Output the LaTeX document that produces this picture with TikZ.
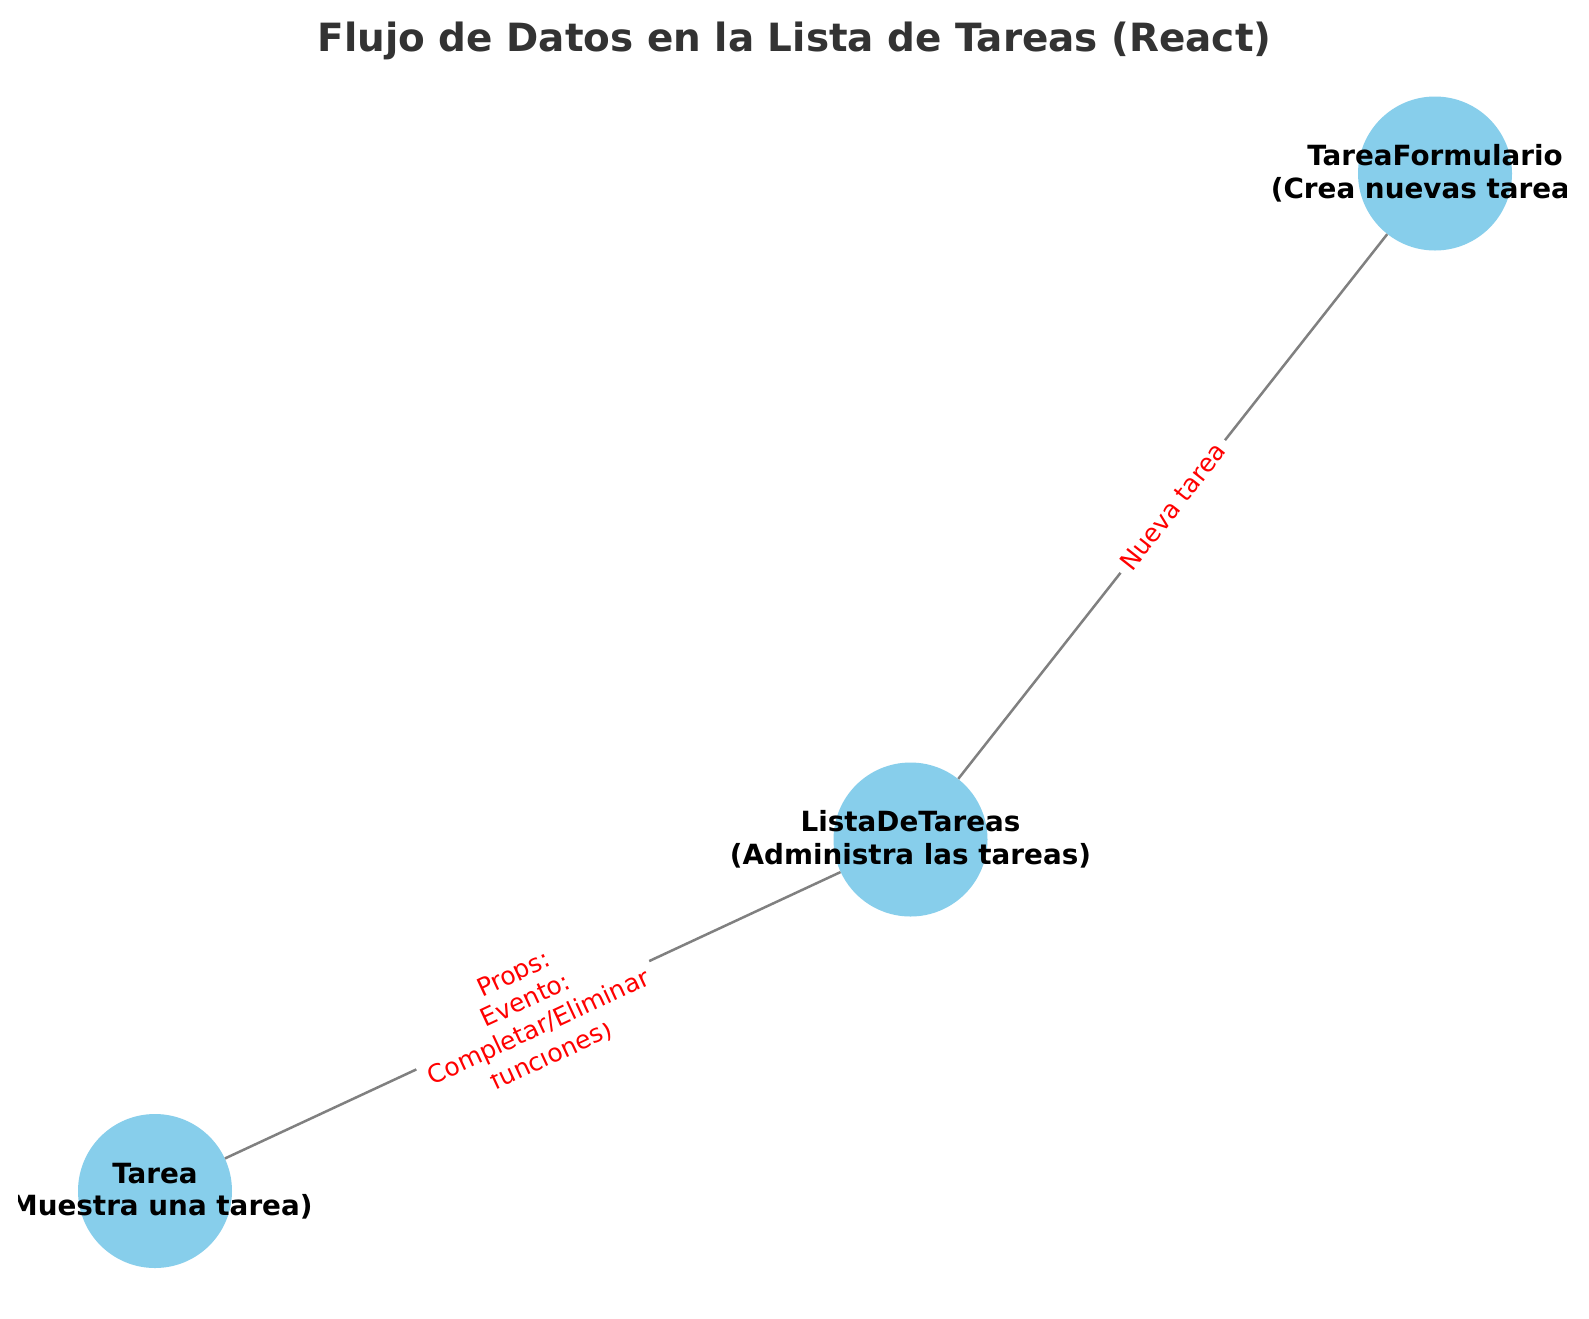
\documentclass[tikz,border=0pt]{standalone}
\usepackage{fontspec}
\setmainfont{DejaVu Sans}
\definecolor{skyblue}{HTML}{87CEEB}
\definecolor{titlegray}{HTML}{333333}
\definecolor{edgegray}{HTML}{808080}
\begin{document}
\begin{tikzpicture}[x=1pt,y=1pt,
  nodecirc/.style={circle, fill=skyblue, draw=none, minimum size=154pt, inner sep=0pt},
  nodelabel/.style={align=center, font=\fontsize{27.8}{32.5}\selectfont\bfseries, text=black, inner sep=0pt},
  edgeline/.style={draw=edgegray, line width=2.5pt},
  edgelabel/.style={sloped, align=center, text=red, font=\fontsize{25}{30}\selectfont, fill=white, inner xsep=7.5pt, inner ysep=7.5pt, rounded corners=7pt},
  coverlabel/.style={edgelabel, inner ysep=10pt},
  titlestyle/.style={font=\fontsize{38.9}{46}\selectfont\bfseries, text=titlegray, anchor=base}]
\useasboundingbox (0,-1318) rectangle (1589,0);
\fill[white] (0,-1318) rectangle (1589,0);
\node[titlestyle] (title) at (794.5,-51) {Flujo de Datos en la Lista de Tareas (React)};
\begin{scope}
\clip (18,-1318) rectangle (1566,0);
\node[nodecirc] (formc) at (1435,-173.5) {};
\node[nodecirc] (listac) at (910.5,-839.5) {};
\node[nodecirc] (tareac) at (155,-1191) {};
\draw[edgeline] (listac) -- (formc) node[edgelabel, pos=0.5] (lbl1) {Nueva tarea};
\draw[edgeline] (tareac) -- (listac)
  node[edgelabel, pos=0.5] (lbl2) {Props:\\\mbox{}\\\mbox{}\\funciones)}
  node[coverlabel, pos=0.5] (lbl3) {Evento:\\Completar/Eliminar};
\node[nodelabel] (formt) at (formc.center) {TareaFormulario\\(Crea nuevas tareas)};
\node[nodelabel] (listat) at (listac.center) {ListaDeTareas\\(Administra las tareas)};
\node[nodelabel] (tareat) at (tareac.center) {Tarea\\(Muestra una tarea)};
\end{scope}
\end{tikzpicture}
\end{document}
